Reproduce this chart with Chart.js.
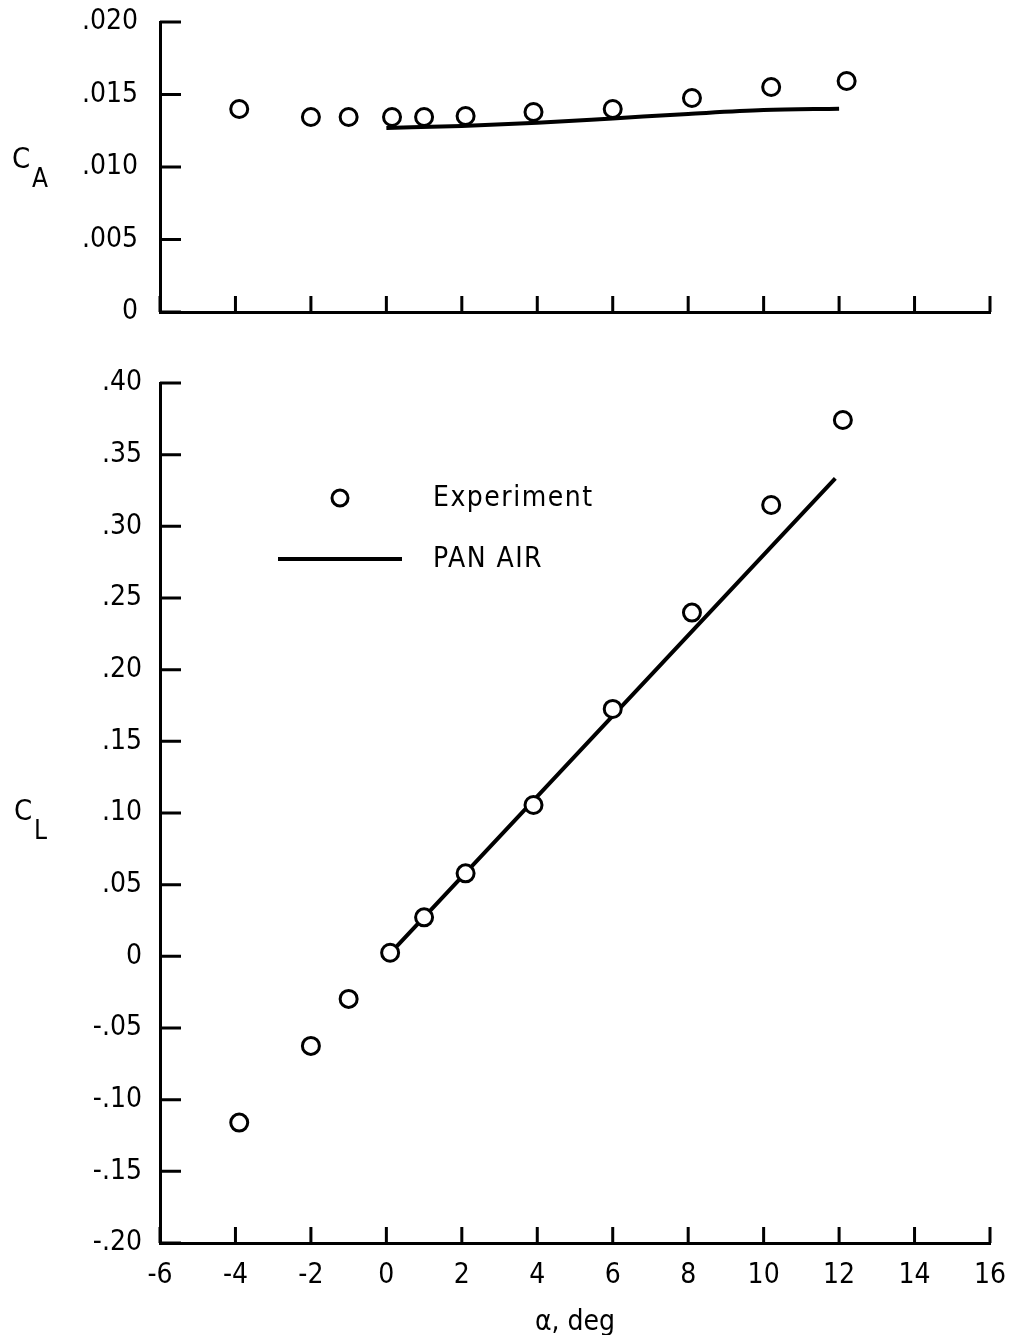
<!DOCTYPE html>
<html>
<head>
<meta charset="utf-8">
<script src="https://cdn.jsdelivr.net/npm/chart.js@4.4.1/dist/chart.umd.min.js"></script>
<style>
  html, body { margin: 0; padding: 0; background: #fff; }
  .box { position: absolute; left: 0; width: 1011px; }
  #topBox { top: 0; height: 345px; }
  #botBox { top: 345px; height: 990px; }
</style>
</head>
<body>
<div class="box" id="topBox"><canvas id="caChart"></canvas></div>
<div class="box" id="botBox"><canvas id="clChart"></canvas></div>
<script>
// axial force coefficient, experiment
const alphaExpCA = [-3.9, -2.0, -1.0, 0.15, 1.0, 2.1, 3.9, 6.0, 8.1, 10.2, 12.2];
const caExp      = [0.0140, 0.01345, 0.01345, 0.01345, 0.01345, 0.01352, 0.01379, 0.0140, 0.01476, 0.01552, 0.01593];
// axial force coefficient, PAN AIR
const alphaPanCA = [0, 2, 4, 6, 8, 10, 12];
const caPan      = [0.01269, 0.01283, 0.01305, 0.01335, 0.01366, 0.01393, 0.01402];
// lift coefficient, experiment
const alphaExpCL = [-3.9, -2.0, -1.0, 0.1, 1.0, 2.1, 3.9, 6.0, 8.1, 10.2, 12.1];
const clExp      = [-0.116, -0.0625, -0.0297, 0.0025, 0.0272, 0.0579, 0.1056, 0.1726, 0.2398, 0.3149, 0.3742];
// lift coefficient, PAN AIR
const alphaPanCL = [0.1, 11.9];
const clPan      = [0.002, 0.3335];

const FONT = '"DejaVu Sans Condensed", "Liberation Sans Narrow", sans-serif';
const toXY = (xs, ys) => xs.map((x, i) => ({ x: x, y: ys[i] }));

// strip the leading zero the way the plot labels do: .015, -.05
function fmt(digits) {
    return v => {
        if (Math.abs(v) < 1e-9) return '0';
        const s = Math.abs(v).toFixed(digits).replace(/^0/, '');
        return (v < 0 ? '-' : '') + s;
    };
}

// keep label overhang from pushing the plot area around
function noPad(s) {
    s.paddingTop = 0; s.paddingBottom = 0;
    s.paddingLeft = 0; s.paddingRight = 0;
}

// tick marks pointing into the plot
const inwardTicks = {
    id: 'inwardTicks',
    afterDraw(chart) {
        const ctx = chart.ctx, a = chart.chartArea;
        const xs = chart.scales.x, ys = chart.scales.y;
        ctx.save();
        ctx.strokeStyle = '#000';
        ctx.lineWidth = 3;
        ctx.beginPath();
        xs.ticks.forEach((t, i) => {
            const px = xs.getPixelForTick(i);
            ctx.moveTo(px, a.bottom);
            ctx.lineTo(px, a.bottom - 16);
        });
        ys.ticks.forEach((t, i) => {
            const py = ys.getPixelForTick(i);
            ctx.moveTo(a.left, py);
            ctx.lineTo(a.left + 21, py);
        });
        ctx.stroke();
        ctx.restore();
    }
};

// "C" with a subscript letter, left of the y axis
const axisLetter = {
    id: 'axisLetter',
    afterDraw(chart, args, o) {
        if (!o.sub) return;
        const ctx = chart.ctx;
        ctx.save();
        ctx.fillStyle = '#000';
        ctx.textBaseline = 'alphabetic';
        ctx.font = '29px ' + FONT;
        ctx.fillText('C', o.x, o.y);
        ctx.font = '26px ' + FONT;
        ctx.fillText(o.sub, o.x + 20, o.y + 19);
        ctx.restore();
    }
};

// legend box inside the lift plot
const keyBox = {
    id: 'keyBox',
    afterDraw(chart, args, o) {
        if (!o.show) return;
        const ctx = chart.ctx;
        ctx.save();
        ctx.strokeStyle = '#000';
        ctx.lineWidth = 3;
        ctx.beginPath();
        ctx.arc(340, 153, 8, 0, Math.PI * 2);
        ctx.stroke();
        ctx.lineWidth = 4;
        ctx.beginPath();
        ctx.moveTo(278, 214);
        ctx.lineTo(402, 214);
        ctx.stroke();
        ctx.fillStyle = '#000';
        ctx.font = '28px ' + FONT;
        ctx.letterSpacing = '1.5px';
        ctx.textBaseline = 'middle';
        ctx.fillText('Experiment', 433, 154);
        ctx.fillText('PAN AIR', 433, 215);
        ctx.restore();
    }
};

function makeChart(id, expX, expY, panX, panY, yOpts, layout) {
    return new Chart(document.getElementById(id), {
        type: 'scatter',
        data: {
            datasets: [{
                label: 'Experiment',
                data: toXY(expX, expY),
                pointStyle: 'circle',
                pointRadius: 8.5,
                pointBorderWidth: 3,
                pointBackgroundColor: '#fff',
                pointBorderColor: '#000',
                order: 0
            }, {
                label: 'PAN AIR',
                data: toXY(panX, panY),
                showLine: true,
                borderColor: '#000',
                borderWidth: 4,
                pointRadius: 0,
                cubicInterpolationMode: 'monotone',
                order: 1
            }]
        },
        options: {
            responsive: true,
            maintainAspectRatio: false,
            animation: false,
            layout: { padding: { top: layout.top, right: 21, left: 0, bottom: 0 } },
            plugins: {
                legend: { display: false },
                tooltip: { enabled: false },
                axisLetter: layout.letter,
                keyBox: { show: layout.key }
            },
            scales: {
                x: {
                    type: 'linear', min: -6, max: 16,
                    ticks: { stepSize: 2, display: layout.xLabels, color: '#000', padding: 16,
                             font: { family: FONT, size: 28 } },
                    grid: { drawOnChartArea: false, drawTicks: false },
                    border: { color: '#000', width: 3 },
                    title: { display: layout.xLabels, text: 'α, deg', color: '#000',
                             font: { family: FONT, size: 28 }, padding: { top: 6, bottom: -5 } },
                    afterFit: s => { noPad(s); s.height = layout.xHeight; }
                },
                y: Object.assign({
                    type: 'linear',
                    grid: { drawOnChartArea: false, drawTicks: false },
                    border: { color: '#000', width: 3 },
                    afterFit: s => { noPad(s); s.width = 160; }
                }, yOpts)
            }
        },
        plugins: [inwardTicks, axisLetter, keyBox]
    });
}

makeChart('caChart', alphaExpCA, caExp, alphaPanCA, caPan, {
    min: 0, max: 0.02,
    ticks: { stepSize: 0.005, color: '#000', padding: 22, callback: fmt(3),
             font: { family: FONT, size: 28 } }
}, { top: 22, xHeight: 33, xLabels: false, key: false,
     letter: { x: 12, y: 168, sub: 'A' } });

makeChart('clChart', alphaExpCL, clExp, alphaPanCL, clPan, {
    min: -0.2, max: 0.4,
    ticks: { stepSize: 0.05, color: '#000', padding: 18, callback: fmt(2),
             font: { family: FONT, size: 28 } }
}, { top: 38, xHeight: 92, xLabels: true, key: true,
     letter: { x: 14, y: 475, sub: 'L' } });
</script>
</body>
</html>
